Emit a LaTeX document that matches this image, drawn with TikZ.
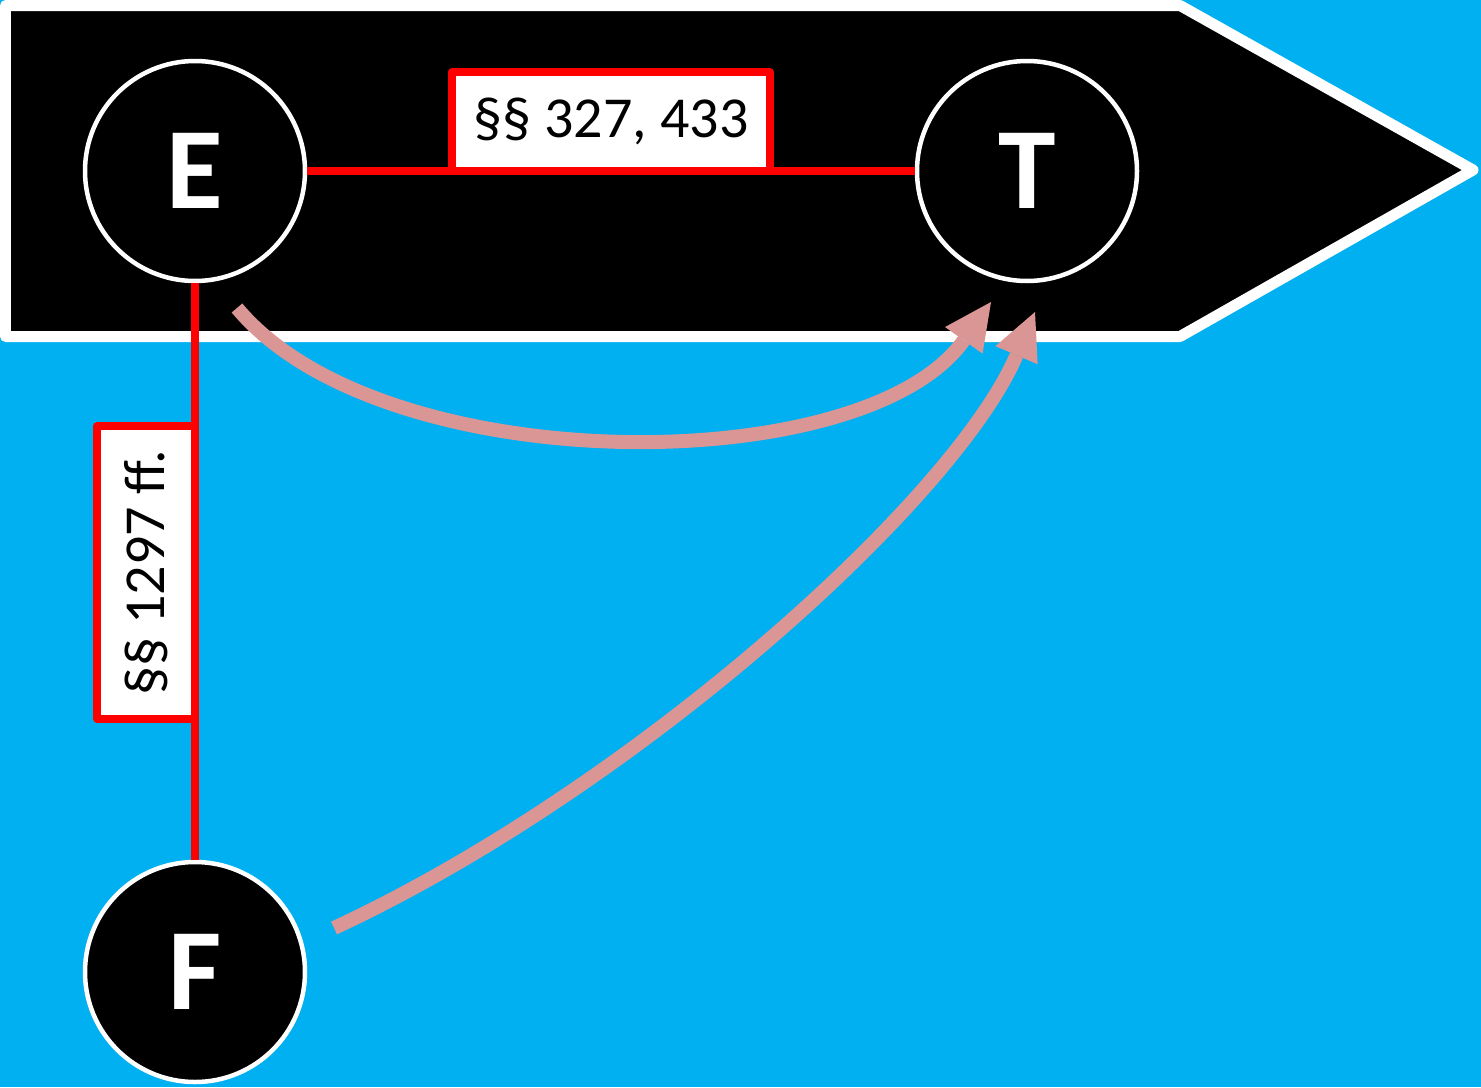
\documentclass[tikz,border=0pt]{standalone}
\usepackage{fontspec}
\setmainfont{Carlito}
\usetikzlibrary{arrows.meta}
\definecolor{bgcyan}{HTML}{00B0F0}
\definecolor{pinkarrow}{HTML}{D99694}
\definecolor{redline}{HTML}{FF0000}
\tikzset{
  party/.style={circle, draw=white, line width=0.045cm, fill=black, minimum size=2.2cm, inner sep=0pt,
    text=white, font=\fontsize{33}{40}\selectfont\bfseries},
  lawbox/.style={draw=redline, line width=0.075cm, fill=white, inner sep=0pt, line join=round,
    font=\fontsize{16.5}{20}\selectfont, text=black},
  relation/.style={draw=redline, line width=0.075cm},
  flow/.style={draw=pinkarrow, line width=0.14cm,
    -{Triangle[length=4.7mm, width=4.6mm, line width=0pt]}}
}
\begin{document}
\begin{tikzpicture}[x=1cm,y=1cm]
  \useasboundingbox (0,0) rectangle (14.81,10.87);
  \fill[bgcyan] (0,0) rectangle (14.81,10.87);
  % black arrow band
  \draw[white, fill=black, line width=0.11cm, line join=round]
    (0.055,10.815) -- (11.80,10.815) -- (14.73,9.17) -- (11.80,7.505) -- (0.055,7.505) -- cycle;
  % nodes
  \node[party] (E) at (1.95,9.16) {E};
  \node[party] (T) at (10.27,9.16) {T};
  \node[party] (F) at (1.95,1.15) {F};
  % relations
  \draw[relation] (E.east) -- (T.west);
  \draw[relation] (E.south) -- (F.north);
  \node[lawbox, minimum width=3.18cm, minimum height=0.99cm] (L1) at (6.11,9.655) {§§ 327, 433};
  \node[lawbox, rotate=90, minimum width=2.93cm, minimum height=0.98cm] (L2) at (1.46,5.145) {§§ 1297 ff.};
  % flows
  \coordinate (a1s) at (2.37,7.79);
  \coordinate (a1e) at (9.91,7.85);
  \coordinate (a2s) at (3.34,1.59);
  \coordinate (a2e) at (10.35,7.75);
  \draw[flow] (a1s) .. controls (3.81,6.06) and (8.64,6.06) .. (a1e);
  \draw[flow] (a2s) .. controls (6.35,2.99) and (9.55,5.88) .. (a2e);
\end{tikzpicture}
\end{document}
